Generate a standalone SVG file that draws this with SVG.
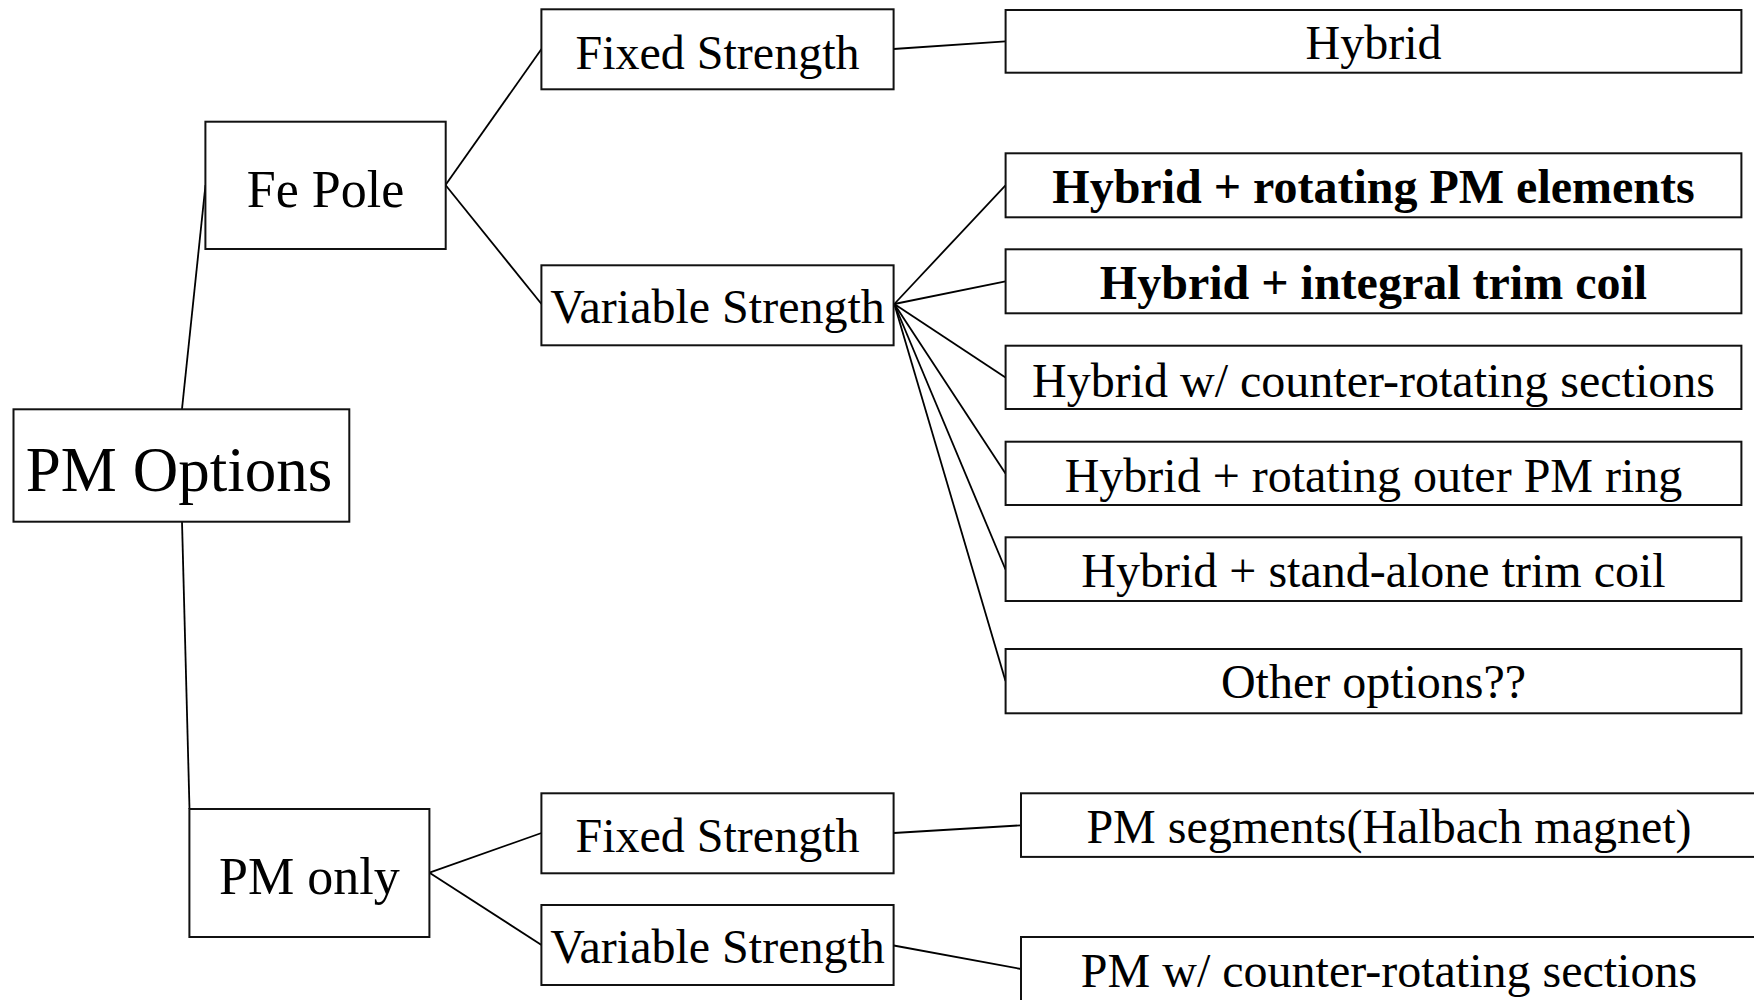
<svg xmlns="http://www.w3.org/2000/svg" width="1754" height="1000" viewBox="0 0 1754 1000">
<style>
.box{fill:#fff;stroke:#111;stroke-width:2}
.t{font-family:"Liberation Serif","Times New Roman",serif;fill:#000;text-anchor:middle}
.f48{font-size:48px}
.f52{font-size:52px}
.f63{font-size:63px}
.b{font-weight:bold}
.c line{stroke:#000;stroke-width:1.8}
</style>
<rect width="1754" height="1000" fill="#fff"/>
<g id="connectors" class="c">
<line x1="182" y1="409" x2="205.5" y2="185"/>
<line x1="182" y1="521.5" x2="189.5" y2="809"/>
<line x1="445.5" y1="185" x2="541.5" y2="49"/>
<line x1="445.5" y1="185" x2="541.5" y2="304"/>
<line x1="893.5" y1="49" x2="1005.5" y2="41.3"/>
<line x1="894.3" y1="304" x2="1005.5" y2="185.3"/>
<line x1="894.3" y1="304" x2="1005.5" y2="281.3"/>
<line x1="894.3" y1="304" x2="1005.5" y2="377.5"/>
<line x1="894.3" y1="304" x2="1005.5" y2="473.5"/>
<line x1="894.3" y1="304" x2="1005.5" y2="569.5"/>
<line x1="894.3" y1="304" x2="1005.5" y2="681"/>
<line x1="429.5" y1="872.7" x2="541.5" y2="833"/>
<line x1="429.5" y1="872.7" x2="541.5" y2="945"/>
<line x1="893.7" y1="833" x2="1021" y2="825.3"/>
<line x1="893.7" y1="945.5" x2="1021" y2="969"/>
</g>
<g id="pm-options"><rect class="box" x="13.5" y="409.3" width="335.8" height="112.4"/><text class="t f63" x="179" y="490.7">PM Options</text></g>
<g id="fe-pole"><rect class="box" x="205.4" y="121.7" width="240.3" height="127.3"/><text class="t f52" x="325.5" y="206.7">Fe Pole</text></g>
<g id="pm-only"><rect class="box" x="189.4" y="809" width="240" height="128"/><text class="t f52" x="309.4" y="894.3">PM only</text></g>
<g id="fe-fixed"><rect class="box" x="541.4" y="9.3" width="352.2" height="80"/><text class="t f48" x="717.5" y="69">Fixed Strength</text></g>
<g id="fe-variable"><rect class="box" x="541.4" y="265.3" width="352.2" height="80"/><text class="t f48" x="717.5" y="323.3">Variable Strength</text></g>
<g id="pm-fixed"><rect class="box" x="541.4" y="793.3" width="352.2" height="80"/><text class="t f48" x="717.5" y="851.7">Fixed Strength</text></g>
<g id="pm-variable"><rect class="box" x="541.4" y="905" width="352.2" height="80"/><text class="t f48" x="717.5" y="963.3">Variable Strength</text></g>
<g id="hybrid"><rect class="box" x="1005.6" y="10" width="735.8" height="62.7"/><text class="t f48" x="1373.5" y="59.3">Hybrid</text></g>
<g id="hybrid-rot-pm"><rect class="box" x="1005.6" y="153.3" width="735.8" height="64"/><text class="t f48 b" x="1373.5" y="202.7">Hybrid + rotating PM elements</text></g>
<g id="hybrid-int-trim"><rect class="box" x="1005.6" y="249.3" width="735.8" height="64"/><text class="t f48 b" x="1373.5" y="299">Hybrid + integral trim coil</text></g>
<g id="hybrid-counter"><rect class="box" x="1005.6" y="345.7" width="735.8" height="63.3"/><text class="t f48" x="1373.5" y="396.7">Hybrid w/ counter-rotating sections</text></g>
<g id="hybrid-outer-ring"><rect class="box" x="1005.6" y="441.7" width="735.8" height="63.3"/><text class="t f48" x="1373.5" y="491.7">Hybrid + rotating outer PM ring</text></g>
<g id="hybrid-standalone"><rect class="box" x="1005.6" y="537.3" width="735.8" height="63.7"/><text class="t f48" x="1373.5" y="587.3">Hybrid + stand-alone trim coil</text></g>
<g id="other-options"><rect class="box" x="1005.6" y="649" width="735.8" height="64.3"/><text class="t f48" x="1373.5" y="698.3">Other options??</text></g>
<g id="pm-segments"><rect class="box" x="1021" y="793.3" width="736" height="63.6"/><text class="t f48" x="1389" y="843.3">PM segments(Halbach magnet)</text></g>
<g id="pm-counter"><rect class="box" x="1021" y="937" width="736" height="64"/><text class="t f48" x="1389" y="986.7">PM w/ counter-rotating sections</text></g>
</svg>
